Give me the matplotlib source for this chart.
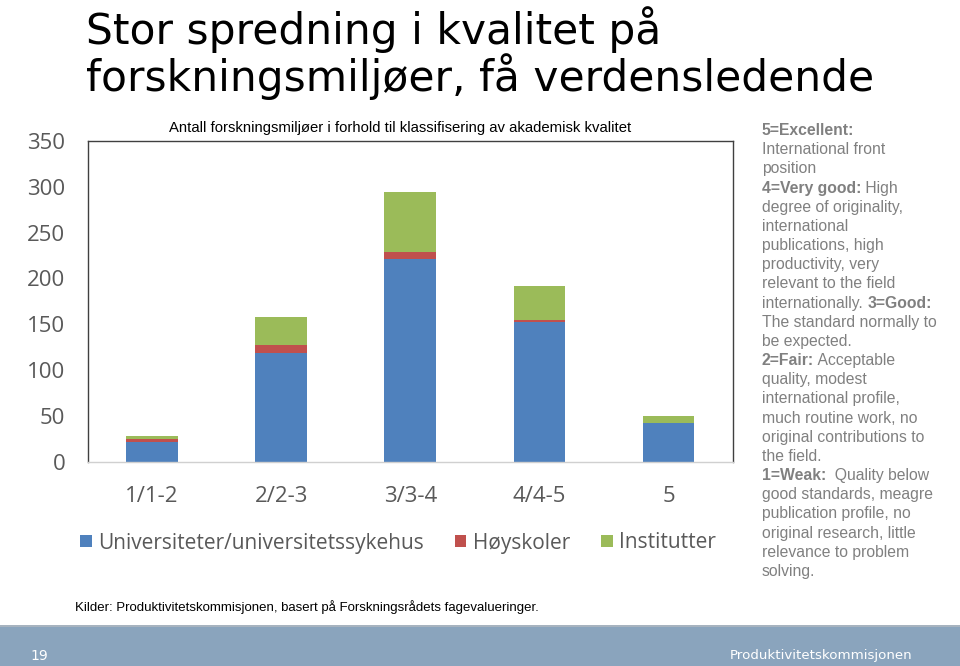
import matplotlib
matplotlib.use("Agg")
import matplotlib.pyplot as plt
from matplotlib.patches import Rectangle
import numpy as np

# ---------------- data ----------------
categories = ["1/1-2", "2/2-3", "3/3-4", "4/4-5", "5"]
universiteter = [21, 119, 221, 152, 42]
hoyskoler = [4, 8, 8, 2, 0]
institutter = [3, 31, 65, 38, 8]
series_names = ["Universiteter/universitetssykehus", "Høyskoler", "Institutter"]
yticks = [0, 50, 100, 150, 200, 250, 300, 350]

title_lines = ["Stor spredning i kvalitet på", "forskningsmiljøer, få verdensledende"]
chart_title = "Antall forskningsmiljøer i forhold til klassifisering av akademisk kvalitet"
source_text = "Kilder: Produktivitetskommisjonen, basert på Forskningsrådets fagevalueringer."
page_number = "19"
footer_name = "Produktivitetskommisjonen"

side_lines = [
    [("5=Excellent:", True)],
    [("International front", False)],
    [("position", False)],
    [("4=Very good:", True), (" High", False)],
    [("degree of originality,", False)],
    [("international", False)],
    [("publications, high", False)],
    [("productivity, very", False)],
    [("relevant to the field", False)],
    [("internationally. ", False), ("3=Good:", True)],
    [("The standard normally to", False)],
    [("be expected.", False)],
    [("2=Fair:", True), (" Acceptable", False)],
    [("quality, modest", False)],
    [("international profile,", False)],
    [("much routine work, no", False)],
    [("original contributions to", False)],
    [("the field.", False)],
    [("1=Weak:", True), ("  Quality below", False)],
    [("good standards, meagre", False)],
    [("publication profile, no", False)],
    [("original research, little", False)],
    [("relevance to problem", False)],
    [("solving.", False)],
]

# ---------------- figure ----------------
W, H = 960, 666
fig = plt.figure(figsize=(W / 100, H / 100), dpi=100)
fig.patch.set_facecolor("white")


def fx(x):
    return x / W


def fy(y):
    return 1 - y / H


colors = ["#4F81BD", "#C0504D", "#9BBB59"]
gray = "#595959"

ax = fig.add_axes([fx(87.5), fy(461.5), fx(733) - fx(87.5), fy(141) - fy(461.5)])
x = np.arange(len(categories))
bw = 0.40
b1 = ax.bar(x, universiteter, bw, color=colors[0], label=series_names[0])
b2 = ax.bar(x, hoyskoler, bw, bottom=universiteter, color=colors[1], label=series_names[1])
bottom3 = np.array(universiteter) + np.array(hoyskoler)
b3 = ax.bar(x, institutter, bw, bottom=bottom3, color=colors[2], label=series_names[2])

ax.set_xlim(-0.5, len(categories) - 0.5)
ax.set_ylim(0, 350)
ax.set_yticks(yticks)
ax.set_yticklabels([str(v) for v in yticks], fontsize=16, color=gray, family="Open Sans")
ax.set_xticks(x)
ax.set_xticklabels(categories, fontsize=16, color=gray, family="Open Sans")
ax.tick_params(axis="y", length=0, pad=16)
ax.tick_params(axis="x", length=0, pad=18)
for s in ["left", "top", "right"]:
    ax.spines[s].set_color("#404040")
    ax.spines[s].set_linewidth(1.0)
ax.spines["bottom"].set_color("#d0d0d0")
ax.spines["bottom"].set_linewidth(1.0)

leg = fig.legend(handles=[b1, b2, b3], labels=series_names, loc="center",
                 bbox_to_anchor=(fx(398), fy(543)), ncol=3, frameon=False,
                 handlelength=0.55, handleheight=0.55, handletextpad=0.3,
                 columnspacing=1.5, prop={"family": "Open Sans", "size": 15})
for t in leg.get_texts():
    t.set_color(gray)

# chart title
fig.text(fx(400), fy(128), chart_title, ha="center", va="center",
         fontsize=10.7, family="Liberation Sans", color="black")

# main slide title
fig.text(fx(86), fy(44), title_lines[0], ha="left", va="baseline",
         fontsize=30.5, family="DejaVu Sans", color="black")
fig.text(fx(86), fy(91), title_lines[1], ha="left", va="baseline",
         fontsize=30.5, family="DejaVu Sans", color="black")

# side text with bold runs
side_color = "#808080"
side_size = 11.3
for i, segs in enumerate(side_lines):
    base = 135 + i * 19.17
    prev = None
    for txt, bold in segs:
        w = "bold" if bold else "normal"
        if prev is None:
            prev = fig.text(fx(762), fy(base), txt, ha="left", va="baseline",
                            fontsize=side_size, fontweight=w, family="Liberation Sans",
                            color=side_color)
        else:
            prev = fig.add_artist(matplotlib.text.Annotation(
                txt, xy=(1, 0), xycoords=prev, xytext=(0, 0), textcoords="offset points",
                ha="left", va="bottom", fontsize=side_size, fontweight=w,
                family="Liberation Sans", color=side_color))

# source
fig.text(fx(75), fy(607), source_text, ha="left", va="center",
         fontsize=9.5, family="Liberation Sans", color="black")

# footer banner
fig.add_artist(Rectangle((0, 0), 1, fy(625), transform=fig.transFigure,
                         facecolor="#8AA4BD", edgecolor="none"))
fig.add_artist(Rectangle((0, fy(626.5)), 1, fy(625) - fy(626.5), transform=fig.transFigure,
                         facecolor="#A7B3BF", edgecolor="none"))
fig.text(fx(30), fy(656), page_number, ha="left", va="center", fontsize=10,
         family="DejaVu Sans", color="white")
fig.text(fx(912), fy(656), footer_name, ha="right", va="center", fontsize=9.6,
         family="DejaVu Sans", color="white")

fig.savefig("out.png", dpi=100)
